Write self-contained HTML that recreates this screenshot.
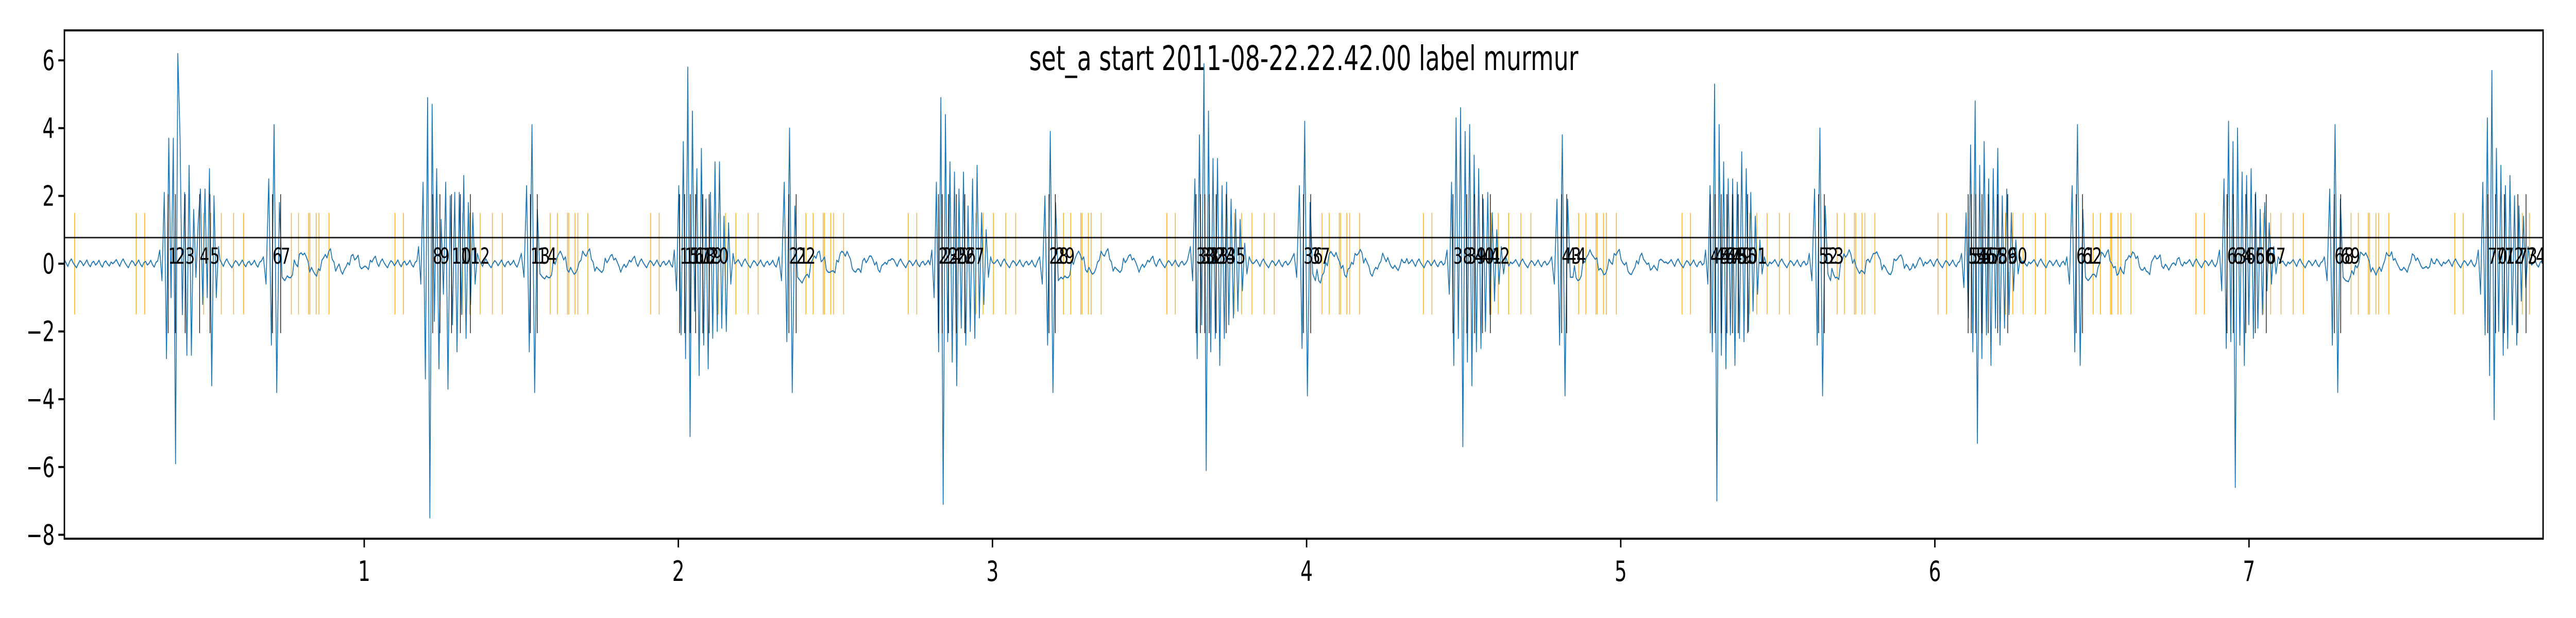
<!DOCTYPE html>
<html><head><meta charset="utf-8"><style>
html,body{margin:0;padding:0;background:#fff;width:100%;height:100%;overflow:hidden;}
svg{display:block;width:100vw;height:100vh;font-family:"DejaVu Sans","Liberation Sans",sans-serif;}
</style></head><body>
<svg id="chart" viewBox="0 0 7200 1200" preserveAspectRatio="none" xmlns="http://www.w3.org/2000/svg">
<rect x="0" y="0" width="7200" height="1200" fill="#fff"/>
<text x="3644" y="136" font-size="66" text-anchor="middle">set_a start 2011-08-22.22.42.00 label murmur</text>
<g id="plot"></g>
<g id="axes"></g>
</svg>
<script>
const xTicks = [1,2,3,4,5,6,7];
const yTicks = [-8,-6,-4,-2,0,2,4,6];
const thresholdValue = 0.77;
const s1Starts = [0.349,1.173,1.987,2.807,3.63,4.447,5.27,6.085,6.906,7.73];
const s2Starts = [0.679,1.50,2.32,3.15,3.96,4.78,5.60,6.42,7.24];
const s1Values = [
 [0.4,-0.5,2.1,-2.8,3.7,-1.0,3.7,-5.9,6.2,3.7,-1.5,2.1,-2.7,2.9,-2.7,1.6,-0.4,1.2,2.2,-1.2,2.2,-1.0,2.8,-3.6,2.0,-1.0,0.5],
 [0.5,-0.6,2.4,-3.4,4.9,-7.5,4.7,-1.7,2.8,-3.1,1.3,-0.9,2.4,-3.7,2.0,-1.8,2.1,-2.6,2.1,-1.5,2.6,-2.2,1.8,-1.2,1.5,-0.6,0.3],
 [0.4,-0.8,2.3,-2.1,3.6,-2.8,5.8,-5.1,4.5,-1.4,2.8,-3.3,3.4,-2.4,1.9,-3.1,2.1,-2.2,3.0,-2.0,3.0,-1.9,1.4,-2.0,1.2,-0.6,0.3],
 [0.4,-1.0,2.4,-2.6,4.9,-7.1,4.4,-2.3,3.0,-2.9,2.7,-3.6,2.2,-1.9,2.7,-2.4,1.7,-2.0,2.5,-2.2,2.9,-1.6,1.5,-1.2,1.0,-0.4,0.2],
 [0.5,-0.5,2.5,-2.8,3.8,-1.8,5.9,-6.1,4.5,-2.6,3.1,-2.2,3.1,-3.0,2.3,-2.2,2.4,-1.8,1.9,-1.6,1.6,-1.4,1.3,-0.8,0.6,-0.3,0.2],
 [0.4,-0.9,2.4,-3.0,4.3,-2.2,4.6,-5.4,3.9,-2.9,4.1,-3.6,3.2,-2.6,2.8,-2.5,1.9,-2.0,2.1,-1.5,1.5,-1.1,1.0,-0.6,0.5,-0.3,0.2],
 [0.4,-0.6,2.3,-2.6,5.3,-7.0,4.1,-2.7,3.0,-3.1,2.5,-2.1,2.5,-3.0,2.4,-2.2,3.3,-2.3,2.8,-2.0,2.1,-1.4,1.4,-0.9,0.7,-0.3,0.2],
 [0.3,-0.7,1.5,-1.6,3.5,-2.6,4.8,-5.3,2.9,-2.8,3.6,-2.1,2.5,-3.0,2.8,-1.9,3.4,-2.4,2.0,-1.9,2.2,-1.5,1.5,-0.8,0.7,-0.3,0.2],
 [0.4,-0.8,2.5,-2.5,4.2,-2.3,3.6,-6.6,4.0,-2.4,2.7,-3.0,2.6,-1.8,2.8,-2.2,2.1,-1.9,1.6,-1.5,1.8,-0.8,1.2,-0.6,0.5,-0.3,0.2],
 [0.4,-0.9,2.4,-2.1,4.3,-3.3,5.7,-4.6,3.4,-2.0,2.9,-2.7,2.3,-2.5,2.6,-1.8,2.0,-2.4,1.7,-1.1,1.4,-0.7,0.5]
];
const s2Values = [
 [0.2,-0.6,2.5,-2.4,4.1,-3.8,1.8,-0.4,-0.5],
 [0.3,-0.4,2.3,-2.6,4.1,-3.8,1.6,-0.3,-0.4],
 [0.2,-0.5,2.4,-2.3,4.0,-3.8,1.7,-0.4,-0.5],
 [0.2,-0.6,2.0,-2.4,3.9,-3.8,1.8,-0.5,-0.4],
 [0.3,-0.4,2.3,-2.5,4.2,-3.9,1.8,-0.3,-0.5],
 [0.2,-0.6,1.9,-2.4,3.8,-3.9,1.9,-0.4,-0.4],
 [0.3,-0.5,2.2,-2.4,4.0,-3.9,1.7,-0.3,-0.5],
 [0.2,-0.6,2.3,-2.6,4.1,-3.0,1.6,-0.4,-0.5],
 [0.2,-0.5,2.2,-2.4,4.1,-3.8,1.9,-0.4,-0.5]
];
const ripple = [0.05,0.12,0.02,-0.08,0.06,0.14,0.03,-0.05,-0.12,0.0,0.09,0.04,-0.06,0.02,0.11,-0.02,-0.09,0.03,0.07,-0.04,0.01,0.1,-0.03,-0.1,0.04,0.08,-0.01,-0.07,0.05,0.0];
const afterWave = [-0.2,-0.45,-0.35,0.0,0.25,0.3,0.1,-0.15,-0.3,-0.2,0.05,0.25,0.3,0.1,-0.1,-0.25,-0.2,0.05,0.2,0.15,-0.05,-0.15,-0.1,0.05,0.1,0.0];
const orangeTimes = [0.078,0.274,0.301,0.489,0.512,0.545,0.584,0.616,0.768,0.791,0.823,0.827,0.847,0.856,0.888,
1.098,1.125,1.313,1.336,1.369,1.408,1.440,1.592,1.615,1.647,1.651,1.671,1.680,1.712,
1.912,1.939,2.127,2.150,2.183,2.222,2.254,2.406,2.429,2.461,2.465,2.485,2.494,2.526,
2.732,2.759,2.947,2.970,3.003,3.042,3.074,3.226,3.249,3.281,3.285,3.305,3.314,3.346,
3.555,3.582,3.770,3.793,3.826,3.865,3.897,4.049,4.072,4.104,4.108,4.128,4.137,4.169,
4.372,4.399,4.587,4.610,4.643,4.682,4.714,4.866,4.889,4.921,4.925,4.945,4.954,4.986,
5.195,5.222,5.410,5.433,5.466,5.505,5.537,5.689,5.712,5.744,5.748,5.768,5.777,5.809,
6.010,6.037,6.225,6.248,6.281,6.320,6.352,6.504,6.527,6.559,6.563,6.583,6.592,6.624,
6.831,6.858,7.046,7.069,7.102,7.141,7.173,7.325,7.348,7.380,7.384,7.404,7.413,7.445,
7.655,7.682,7.870,7.893];
const markTimes = [0.376,0.399,0.430,0.476,0.509,0.708,0.734,
1.218,1.241,1.278,1.306,1.338,1.529,1.551,
2.004,2.020,2.038,2.055,2.078,2.098,2.352,2.375,
2.828,2.840,2.860,2.885,2.912,3.180,3.200,
3.648,3.662,3.676,3.690,3.712,3.744,3.990,4.013,
4.466,4.510,4.535,4.560,4.585,4.812,4.828,
5.285,5.300,5.320,5.338,5.356,5.374,5.404,5.630,5.648,
6.106,6.116,6.130,6.150,6.170,6.200,6.232,6.450,6.470,
6.930,6.950,6.990,7.020,7.055,7.272,7.292,
7.760,7.785,7.813,7.856,7.882];
const markLabels = markTimes.map((t,i)=>String(i+1));

const X0=180, X1=7108, Y0=59, Y1=1046;
const xMin=0.0456, xMax=7.936;
const sx = v => 140 + 878*v;
const sy = v => 512 - 65.8*v;
const NS="http://www.w3.org/2000/svg";
const plot=document.getElementById('plot');
const axes=document.getElementById('axes');
function mk(tag,attrs,parent){const e=document.createElementNS(NS,tag);for(const k in attrs)e.setAttribute(k,attrs[k]);parent.appendChild(e);return e;}

const defs=mk('defs',{},plot);
const cp=mk('clipPath',{id:'clip'},defs);
mk('rect',{x:X0,y:Y0,width:X1-X0,height:Y1-Y0},cp);
const g=mk('g',{'clip-path':'url(#clip)'},plot);

const S1DT=0.0072, S2DT=0.0085;
const bursts=[];
s1Starts.forEach((s,i)=>bursts.push({t0:s,dt:S1DT,vals:s1Values[i]}));
s2Starts.forEach((s,i)=>bursts.push({t0:s,dt:S2DT,vals:s2Values[i]}));
const pts=[];
bursts.forEach(b=>b.vals.forEach((v,j)=>pts.push([b.t0+j*b.dt,v])));
let k=0;
for(let t=xMin;t<=xMax;t+=0.0055){
  k++;
  if(bursts.some(b=>t>=b.t0-0.004&&t<=b.t0+b.dt*(b.vals.length-1)+0.004))continue;
  let v=ripple[k%ripple.length];
  s2Starts.forEach((s,i)=>{const e=s+S2DT*(s2Values[i].length-1);const d=t-e;if(d>0&&d<0.012*(afterWave.length-1)){v+=afterWave[Math.round(d/0.012)];}});
  pts.push([t,v]);
}
pts.sort((a,b)=>a[0]-b[0]);

orangeTimes.forEach(t=>{
  const l=mk('line',{x1:sx(t),x2:sx(t),y1:sy(1.5),y2:sy(-1.5),stroke:'#ffa500','stroke-width':2.2,'stroke-opacity':0.85},g);
  
  
});
const sig=mk('path',{d:'M'+pts.map(p=>sx(p[0]).toFixed(1)+','+sy(p[1]).toFixed(1)).join('L'),fill:'none',stroke:'#1f77b4','stroke-width':2.4,'stroke-linejoin':'round'},g);


markTimes.forEach((t,i)=>{
  const l=mk('line',{x1:sx(t),x2:sx(t),y1:sy(2.05),y2:sy(-2.05),stroke:'#000','stroke-width':1.8},g);
  
  
  const tx=mk('text',{x:sx(t),y:sy(0),'font-size':43,fill:'#000'},g);
  tx.textContent=markLabels[i];
  
  
});
const th=mk('line',{x1:X0,x2:X1,y1:sy(thresholdValue),y2:sy(thresholdValue),stroke:'#000','stroke-width':3,'stroke-opacity':0.85},g);



const fr=mk('rect',{x:X0,y:Y0,width:X1-X0,height:Y1-Y0,fill:'none',stroke:'#000','stroke-width':4},axes);


xTicks.forEach(v=>{
  const x=sx(v);
  mk('line',{x1:x,x2:x,y1:Y1,y2:Y1+17,stroke:'#000','stroke-width':4},axes);
  const t=mk('text',{x:x,y:1128,'font-size':54,'text-anchor':'middle'},axes);
  t.textContent=String(v);
  
  
});
yTicks.forEach(v=>{
  const y=sy(v);
  mk('line',{x1:X0-17,x2:X0,y1:y,y2:y,stroke:'#000','stroke-width':4},axes);
  const t=mk('text',{x:X0-27,y:y+19,'font-size':54,'text-anchor':'end'},axes);
  t.textContent=(v<0?'\u2212':'')+Math.abs(v);
  
  
});
</script>
</body></html>
